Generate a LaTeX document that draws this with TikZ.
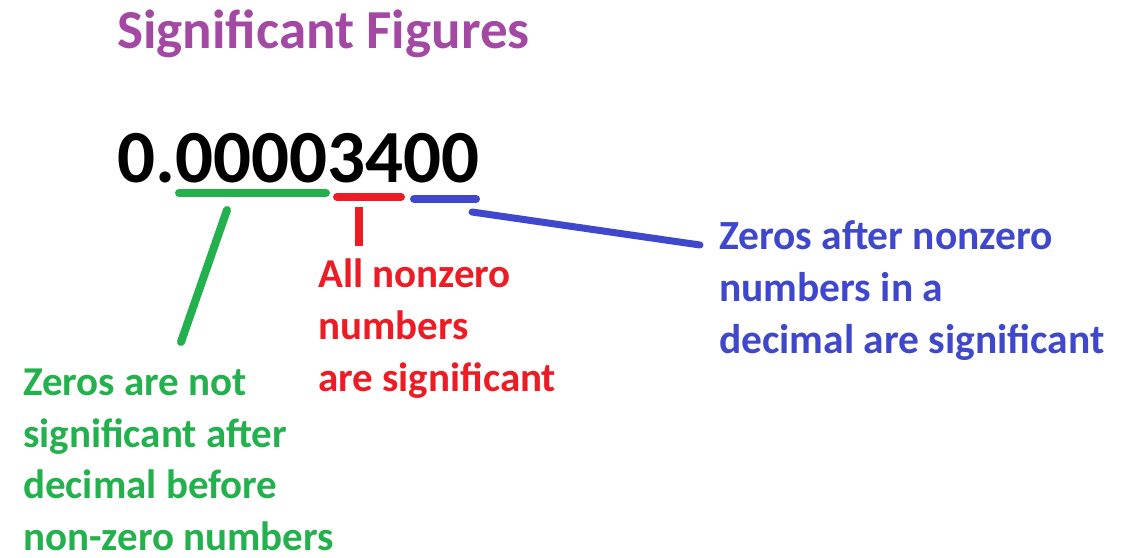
\documentclass[tikz,border=0pt]{standalone}
\usepackage{fontspec}
\setmainfont{Carlito}
\definecolor{ttl}{RGB}{163,73,164}
\definecolor{pgreen}{RGB}{34,177,76}
\definecolor{pred}{RGB}{237,28,36}
\definecolor{pblue}{RGB}{63,72,204}
\begin{document}
\begin{tikzpicture}[x=1pt,y=-1pt,
  lbl/.style={anchor=base west,inner sep=0pt,align=left,font=\bfseries\fontsize{41}{52}\selectfont},
  penline/.style={line width=8pt,line cap=round}]
\path[use as bounding box,fill=white] (0,0) rectangle (1138,557);
\node[anchor=base west,inner sep=0pt,text=ttl,font=\bfseries\fontsize{55}{60}\selectfont] (title) at (117,48) {Significant Figures};
\node[anchor=base west,inner sep=0pt,font=\bfseries\fontsize{75}{80}\selectfont] (num) at (117,182) {0.00003400};
% underlines
\coordinate (g1) at (179,193); \coordinate (g2) at (326,193);
\coordinate (r1) at (337,197); \coordinate (r2) at (401,197);
\coordinate (b1) at (414,199); \coordinate (b2) at (476,199);
\draw[penline,pgreen] (g1) -- (g2);
\draw[penline,pred] (r1) -- (r2);
\draw[penline,pblue] (b1) -- (b2);
% labels (anchor base = baseline of last line)
\node[lbl,text=pgreen,font=\bfseries\fontsize{41}{51.5}\selectfont] (gtxt) at (23,550) {Zeros are not\\significant after\\decimal before\\non-zero numbers};
\node[lbl,text=pred] (rtxt) at (318,391) {All nonzero\\numbers\\are significant};
\node[lbl,text=pblue,font=\bfseries\fontsize{41.5}{52}\selectfont] (btxt) at (719,353) {Zeros after nonzero\\numbers in a\\decimal are significant};
% connectors
\coordinate (gs) at (227,210); \coordinate (ge) at (181,342);
\coordinate (rs) at (359,207); \coordinate (re) at (359,246);
\coordinate (bs) at (472,212); \coordinate (be) at (700,245);
\draw[penline,pgreen] (gs) -- (ge);
\draw[penline,pred,line cap=butt] (rs) -- (re);
\draw[penline,pblue,line width=7pt] (bs) -- (be);
\end{tikzpicture}
\end{document}
